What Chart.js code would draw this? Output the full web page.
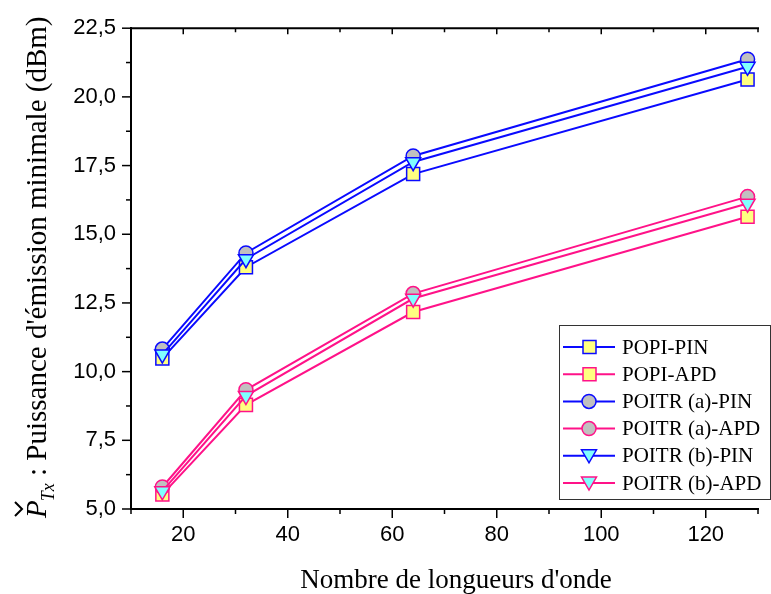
<!DOCTYPE html>
<html>
<head>
<meta charset="utf-8">
<script src="https://cdn.jsdelivr.net/npm/chart.js@4.4.1/dist/chart.umd.min.js"></script>
<style>
  html, body { margin: 0; padding: 0; background: #fff; }
  #wrap { width: 771px; height: 594px; position: relative; }
</style>
</head>
<body>
<div id="wrap"><canvas id="myChart" width="771" height="594"></canvas></div>
<script>
// data
const nbLongueurs = [16, 32, 64, 128];
const popiPin = [10.48, 13.8, 17.19, 20.63];
const popiApd = [5.53, 8.79, 12.17, 15.64];
const poitrAPin = [10.82, 14.32, 17.85, 21.37];
const poitrAApd = [5.8, 9.34, 12.84, 16.37];
const poitrBPin = [10.63, 14.1, 17.63, 21.1];
const poitrBApd = [5.65, 9.12, 12.66, 16.12];
const seriesNames = ["POPI-PIN", "POPI-APD", "POITR (a)-PIN", "POITR (a)-APD", "POITR (b)-PIN", "POITR (b)-APD"];
const xTickLabels = [20, 40, 60, 80, 100, 120];
const yTickLabels = [5.0, 7.5, 10.0, 12.5, 15.0, 17.5, 20.0, 22.5];

const BLEU = "#0a0aff";
const ROSE = "#ff1288";
const JAUNE = "#ffff80";
const GRIS = "#c0c0c0";
const CYAN = "#80ffff";

function pts(vals) {
  return vals.map((v, i) => ({ x: nbLongueurs[i], y: v }));
}

function serie(idx, vals, color, style, fill, order) {
  let r = style === "rect" ? 9.2 : style === "circle" ? 7 : 8.7;
  return {
    label: seriesNames[idx],
    data: pts(vals),
    borderColor: color,
    borderWidth: 2,
    pointStyle: style,
    pointRotation: style === "triangle" ? 180 : 0,
    pointRadius: r,
    pointHoverRadius: r,
    pointBackgroundColor: fill,
    pointBorderColor: color,
    pointBorderWidth: 1.5,
    tension: 0,
    order: order,
  };
}

// ticks, bordure du haut, titres et legende
const decor = {
  id: "decor",
  afterDraw(chart) {
    const ctx = chart.ctx;
    const a = chart.chartArea;
    const xs = chart.scales.x;
    const ys = chart.scales.y;
    ctx.save();
    ctx.strokeStyle = "#000";
    ctx.lineWidth = 2;
    // bordure du haut
    ctx.beginPath();
    ctx.moveTo(a.left - 1, a.top);
    ctx.lineTo(a.right + 1, a.top);
    ctx.stroke();

    ctx.lineWidth = 1.5;
    xs.ticks.forEach((t) => {
      const px = xs.getPixelForValue(t.value);
      const major = xTickLabels.includes(t.value);
      ctx.beginPath();
      ctx.moveTo(px, a.bottom);
      ctx.lineTo(px, a.bottom + (major ? 9 : 5));
      ctx.moveTo(px, a.top);
      ctx.lineTo(px, a.top + (major ? 6 : 4));
      ctx.stroke();
    });
    ys.ticks.forEach((t) => {
      const py = ys.getPixelForValue(t.value);
      const major = yTickLabels.some((v) => Math.abs(v - t.value) < 1e-6);
      ctx.beginPath();
      ctx.moveTo(a.left, py);
      ctx.lineTo(a.left - (major ? 9 : 5), py);
      ctx.stroke();
    });

    // titre axe x
    ctx.fillStyle = "#000";
    ctx.font = "27px 'Liberation Serif', serif";
    ctx.textAlign = "center";
    ctx.textBaseline = "alphabetic";
    ctx.fillText("Nombre de longueurs d'onde", 456, 588);

    // titre axe y (P avec caron, indice Tx)
    ctx.save();
    ctx.translate(46, 518);
    ctx.rotate(-Math.PI / 2);
    ctx.textAlign = "left";
    ctx.font = "italic 29px 'Liberation Serif', serif";
    ctx.fillText("P", 0, 0);
    const wP = ctx.measureText("P").width;
    ctx.lineWidth = 2;
    ctx.beginPath();
    ctx.moveTo(2, -31);
    ctx.lineTo(9, -24);
    ctx.lineTo(16, -31);
    ctx.stroke();
    ctx.font = "italic 18px 'Liberation Serif', serif";
    ctx.fillText("Tx", wP - 1, 8);
    const wT = ctx.measureText("Tx").width;
    ctx.font = "29px 'Liberation Serif', serif";
    ctx.fillText(" : Puissance d'émission minimale (dBm)", wP + wT - 1, 0);
    ctx.restore();

    // legende
    const bx = 559, by = 325, bw = 211, bh = 174;
    ctx.fillStyle = "#fff";
    ctx.fillRect(bx, by, bw, bh);
    ctx.strokeStyle = "#333";
    ctx.lineWidth = 1;
    ctx.strokeRect(bx + 0.5, by + 0.5, bw, bh);
    ctx.font = "21px 'Liberation Serif', serif";
    ctx.textBaseline = "middle";
    ctx.textAlign = "left";
    chart.data.datasets.forEach((ds, i) => {
      const cy = by + 22 + i * 27.2;
      ctx.strokeStyle = ds.borderColor;
      ctx.lineWidth = 2;
      ctx.beginPath();
      ctx.moveTo(563, cy);
      ctx.lineTo(615, cy);
      ctx.stroke();
      ctx.fillStyle = ds.pointBackgroundColor;
      ctx.lineWidth = 1.5;
      ctx.beginPath();
      if (ds.pointStyle === "rect") {
        ctx.rect(583, cy - 6.5, 13, 13);
      } else if (ds.pointStyle === "circle") {
        ctx.arc(589, cy, 7, 0, Math.PI * 2);
      } else {
        ctx.moveTo(581.5, cy - 6);
        ctx.lineTo(596.5, cy - 6);
        ctx.lineTo(589, cy + 7);
        ctx.closePath();
      }
      ctx.fill();
      ctx.stroke();
      ctx.fillStyle = "#000";
      ctx.fillText(ds.label, 622, cy + 1);
    });
    ctx.restore();
  },
};

const ctx = document.getElementById("myChart").getContext("2d");
new Chart(ctx, {
  type: "line",
  data: {
    datasets: [
      serie(0, popiPin, BLEU, "rect", JAUNE, 2),
      serie(1, popiApd, ROSE, "rect", JAUNE, 2),
      serie(2, poitrAPin, BLEU, "circle", GRIS, 1),
      serie(3, poitrAApd, ROSE, "circle", GRIS, 1),
      serie(4, poitrBPin, BLEU, "triangle", CYAN, 0),
      serie(5, poitrBApd, ROSE, "triangle", CYAN, 0),
    ],
  },
  options: {
    responsive: false,
    animation: false,
    clip: false,
    layout: { padding: { left: 0, right: 1, top: 25, bottom: 0 } },
    plugins: { legend: { display: false }, tooltip: { enabled: false } },
    scales: {
      x: {
        type: "linear",
        min: 10,
        max: 130,
        grid: { display: true, drawOnChartArea: false, drawTicks: false },
        border: { display: true, color: "#000", width: 2 },
        ticks: {
          stepSize: 10,
          autoSkip: false,
          maxRotation: 0,
          padding: 13,
          color: "#000",
          font: { family: "'Liberation Sans', Arial, sans-serif", size: 22 },
          callback: (v) => (xTickLabels.includes(v) ? String(v) : ""),
        },
        afterFit: (s) => { s.height = 85; },
      },
      y: {
        min: 5,
        max: 22.5,
        grid: { display: true, drawOnChartArea: false, drawTicks: false },
        border: { display: true, color: "#000", width: 2 },
        ticks: {
          stepSize: 1.25,
          autoSkip: false,
          padding: 15,
          color: "#000",
          font: { family: "'Liberation Sans', Arial, sans-serif", size: 22 },
          callback: (v) => {
            const m = yTickLabels.find((t) => Math.abs(t - v) < 1e-6);
            return m === undefined ? "" : m.toFixed(1).replace(".", ",");
          },
        },
        afterFit: (s) => { s.width = 131; },
      },
    },
  },
  plugins: [decor],
});
</script>
</body>
</html>
